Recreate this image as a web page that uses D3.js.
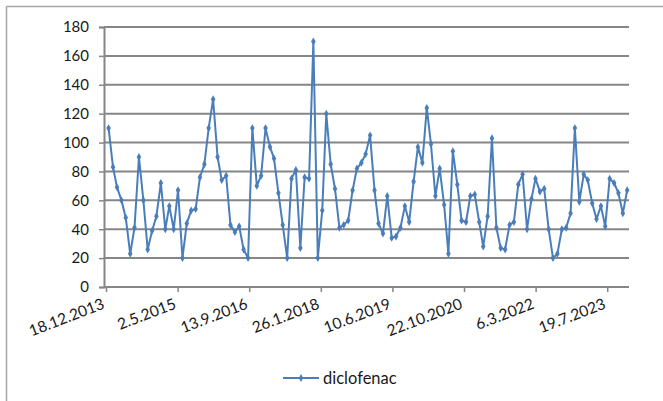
<!DOCTYPE html>
<html>
<head>
<meta charset="utf-8">
<script src="https://cdn.jsdelivr.net/npm/d3@7/dist/d3.min.js"></script>
<style>
  html, body { margin: 0; padding: 0; background: #fff; }
  svg { display: block; }
  text { font-family: Lato, "Open Sans", sans-serif; fill: #1a1a1a; }
</style>
</head>
<body>
<svg id="chart" width="663" height="401"></svg>
<script>
// Monthly sampling dates (Jan 2014 – Dec 2023)
const sampleDates = [
  "2014-01-05","2014-02-05","2014-03-05","2014-04-05","2014-05-05","2014-06-05","2014-07-05","2014-08-05","2014-09-05","2014-10-05","2014-11-05","2014-12-05",
  "2015-01-05","2015-02-05","2015-03-05","2015-04-05","2015-05-05","2015-06-05","2015-07-05","2015-08-05","2015-09-05","2015-10-05","2015-11-05","2015-12-05",
  "2016-01-05","2016-02-05","2016-03-05","2016-04-05","2016-05-05","2016-06-05","2016-07-05","2016-08-05","2016-09-05","2016-10-05","2016-11-05","2016-12-05",
  "2017-01-05","2017-02-05","2017-03-05","2017-04-05","2017-05-05","2017-06-05","2017-07-05","2017-08-05","2017-09-05","2017-10-05","2017-11-05","2017-12-05",
  "2018-01-05","2018-02-05","2018-03-05","2018-04-05","2018-05-05","2018-06-05","2018-07-05","2018-08-05","2018-09-05","2018-10-05","2018-11-05","2018-12-05",
  "2019-01-05","2019-02-05","2019-03-05","2019-04-05","2019-05-05","2019-06-05","2019-07-05","2019-08-05","2019-09-05","2019-10-05","2019-11-05","2019-12-05",
  "2020-01-05","2020-02-05","2020-03-05","2020-04-05","2020-05-05","2020-06-05","2020-07-05","2020-08-05","2020-09-05","2020-10-05","2020-11-05","2020-12-05",
  "2021-01-05","2021-02-05","2021-03-05","2021-04-05","2021-05-05","2021-06-05","2021-07-05","2021-08-05","2021-09-05","2021-10-05","2021-11-05","2021-12-05",
  "2022-01-05","2022-02-05","2022-03-05","2022-04-05","2022-05-05","2022-06-05","2022-07-05","2022-08-05","2022-09-05","2022-10-05","2022-11-05","2022-12-05",
  "2023-01-05","2023-02-05","2023-03-05","2023-04-05","2023-05-05","2023-06-05","2023-07-05","2023-08-05","2023-09-05","2023-10-05","2023-11-05","2023-12-05"
];

// Diclofenac concentrations, one value per sampling date
const diclofenac = [
  110, 83, 69, 60, 48, 23, 41, 90, 60, 26, 39, 49,
  72, 40, 56, 40, 67, 20, 44, 53, 54, 76, 85, 110,
  130, 90, 74, 77, 43, 38, 42, 26, 20, 110, 70, 77,
  110, 97, 89, 65, 43, 20, 75, 81, 27, 76, 75, 170,
  20, 53, 120, 85, 68, 41, 43, 46, 67, 82, 86, 92,
  105, 67, 44, 37, 63, 34, 35, 41, 56, 45, 73, 97,
  86, 124, 99, 63, 82, 57, 23, 94, 71, 46, 45, 63,
  64, 45, 28, 49, 103, 41, 27, 26, 43, 45, 71, 78,
  40, 61, 75, 66, 68, 40, 20, 23, 40, 41, 51, 110,
  59, 78, 74, 58, 47, 56, 42, 75, 72, 65, 51, 67
];

// Date axis tick labels (500-day major unit)
const xTickLabels = ["18.12.2013","2.5.2015","13.9.2016","26.1.2018","10.6.2019","22.10.2020","6.3.2022","19.7.2023"];
const yTicks = [0, 20, 40, 60, 80, 100, 120, 140, 160, 180];
const seriesName = "diclofenac";

const parseIso = d3.timeParse("%Y-%m-%d");
const parseLabel = d3.timeParse("%d.%m.%Y");
const data = sampleDates.map((d, i) => ({ date: parseIso(d), value: diclofenac[i] }));
const tickDates = xTickLabels.map(parseLabel);

const W = 663, H = 401;
const plot = { left: 104, right: 629, top: 27, bottom: 287 };
const lineColor = "#4a7ebb";
const gridColor = "#868686";

const svg = d3.select("#chart");

// Outer chart frame
svg.append("line").attr("x1", 6.5).attr("x2", 6.5).attr("y1", 6.5).attr("y2", H)
  .attr("stroke", "#a6a6a6").attr("stroke-width", 1.5);
svg.append("line").attr("x1", 6.5).attr("x2", W).attr("y1", 6.5).attr("y2", 6.5)
  .attr("stroke", "#a6a6a6").attr("stroke-width", 1.5);

const x = d3.scaleTime()
  .domain([tickDates[0], d3.timeDay.offset(tickDates[0], 3652)])
  .range([plot.left + 2, plot.right]);
const y = d3.scaleLinear().domain([0, 180]).range([plot.bottom, plot.top]);

// Horizontal gridlines
svg.append("g")
  .selectAll("line")
  .data(yTicks.filter(v => v > 0))
  .join("line")
  .attr("x1", plot.left).attr("x2", plot.right)
  .attr("y1", d => y(d)).attr("y2", d => y(d))
  .attr("stroke", gridColor).attr("stroke-width", 2);

// Y axis
const yAxis = svg.append("g")
  .attr("transform", `translate(${plot.left},0)`)
  .call(d3.axisLeft(y).tickValues(yTicks).tickSize(5).tickPadding(10));
yAxis.select(".domain").attr("stroke", gridColor).attr("stroke-width", 2);
yAxis.selectAll(".tick line").attr("stroke", gridColor).attr("stroke-width", 1.5);
yAxis.selectAll(".tick text").attr("font-size", 15).attr("fill", "#1a1a1a")
  .attr("font-family", "Lato, 'Open Sans', sans-serif");

// X axis
const xAxis = svg.append("g")
  .attr("transform", `translate(0,${plot.bottom})`)
  .call(d3.axisBottom(x).tickValues(tickDates).tickSize(5)
    .tickFormat((d, i) => xTickLabels[i]));
xAxis.select(".domain").attr("d", `M${plot.left},0H${plot.right}`)
  .attr("stroke", gridColor).attr("stroke-width", 2);
xAxis.selectAll(".tick line").attr("stroke", gridColor).attr("stroke-width", 1.5);
xAxis.selectAll(".tick text")
  .attr("font-size", 15.5).attr("fill", "#1a1a1a")
  .attr("font-family", "Lato, 'Open Sans', sans-serif")
  .attr("text-anchor", "end")
  .attr("y", 0).attr("dy", 0)
  .attr("transform", "translate(-1,21) rotate(-21)");

// Series line
const line = d3.line().x(d => x(d.date)).y(d => y(d.value));
svg.append("path")
  .datum(data)
  .attr("d", line)
  .attr("fill", "none")
  .attr("stroke", lineColor)
  .attr("stroke-width", 2)
  .attr("stroke-linejoin", "round");

// Diamond markers
const diamond = d3.symbol().type(d3.symbolDiamond).size(18);
svg.append("g")
  .selectAll("path")
  .data(data)
  .join("path")
  .attr("d", diamond)
  .attr("transform", d => `translate(${x(d.date)},${y(d.value)})`)
  .attr("fill", lineColor);

// Legend
const legend = svg.append("g").attr("transform", "translate(283,378)");
legend.append("line").attr("x1", 0).attr("x2", 36).attr("y1", 0).attr("y2", 0)
  .attr("stroke", lineColor).attr("stroke-width", 2);
legend.append("path").attr("d", diamond).attr("transform", "translate(18,0)").attr("fill", lineColor);
legend.append("text").attr("x", 40).attr("y", 5.5)
  .attr("font-size", 16.5).text(seriesName);
</script>
</body>
</html>
